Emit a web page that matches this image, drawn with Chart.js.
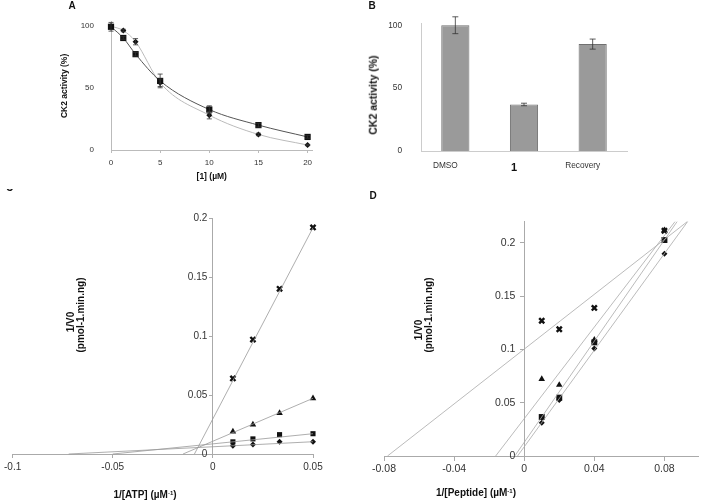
<!DOCTYPE html>
<html>
<head>
<meta charset="utf-8">
<script src="https://cdn.jsdelivr.net/npm/chart.js@4.4.0/dist/chart.umd.min.js"></script>
<style>
  body { margin: 0; background: #fff; }
  #wrap { position: relative; width: 705px; height: 501px; overflow: hidden; font-family: 'Liberation Sans', Arial, sans-serif; }
  canvas { position: absolute; }
  .lbl { position: absolute; font-weight: bold; color: #111; white-space: nowrap; line-height: 1; }
  .rot { transform: translate(-50%, -50%) rotate(-90deg); }
  .ctr { transform: translate(-50%, -50%); }
  sup { font-size: 0.6em; vertical-align: 0.5em; line-height: 0; }
</style>
</head>
<body>
<div id="wrap">
  <canvas id="chartA" width="330" height="190" style="left:0;top:0"></canvas>
  <canvas id="chartB" width="300" height="190" style="left:340px;top:0"></canvas>
  <canvas id="chartC" width="350" height="311" style="left:0;top:190px"></canvas>
  <canvas id="chartD" width="355" height="311" style="left:350px;top:190px"></canvas>

  <div class="lbl ctr" style="left:72px;top:6px;font-size:10px">A</div>
  <div class="lbl ctr" style="left:372px;top:6px;font-size:10px">B</div>
  <div class="lbl rot" style="left:373px;top:95px;font-size:10.5px">CK2 activity (%)</div>
  <div style="position:absolute;left:0;top:189px;width:20px;height:5px;overflow:hidden">
    <div class="lbl" style="left:6px;top:-6px;font-size:10px">C</div>
  </div>
  <div class="lbl ctr" style="left:373px;top:196px;font-size:10px">D</div>

  <div class="lbl rot" style="left:71px;top:322px;font-size:10px">1/V0</div>
  <div class="lbl rot" style="left:81px;top:315px;font-size:10px">(pmol-1.min.ng)</div>
  <div class="lbl ctr" style="left:145px;top:495px;font-size:10px">1/[ATP] (µM<sup>-1</sup>)</div>

  <div class="lbl rot" style="left:419px;top:330px;font-size:10px">1/V0</div>
  <div class="lbl rot" style="left:429px;top:315px;font-size:10px">(pmol-1.min.ng)</div>
  <div class="lbl ctr" style="left:476px;top:493px;font-size:10px">1/[Peptide] (µM<sup>-1</sup>)</div>
</div>
<script>
// A: activity vs concentration of 1
const doseConc = [0, 1.25, 2.5, 5, 10, 15, 20];
const doseSquare = [99, 90, 77, 55.5, 32.5, 20, 10.5];
const doseSquareErr = [3.5, 1, 1.5, 5.5, 3, 1.5, 1];
const doseDiamond = [99.5, 96, 87, 54, 28, 12.5, 4];
const doseDiamondErr = [0, 1, 2.5, 3, 3, 1, 0.5];
const doseXTicks = [0, 5, 10, 15, 20];
const pctTicks = [0, 50, 100];

// B: treatments
const treatLabels = ['DMSO', '1', 'Recovery'];
const treatValues = [100, 37, 85];
const treatErr = [6.7, 1, 4];

// C: double reciprocal vs ATP
const atpX = [0.01, 0.02, 0.0333, 0.05];
const atpCross = [0.064, 0.097, 0.14, 0.192];
const atpTriangle = [0.019, 0.025, 0.0347, 0.0472];
const atpSquare = [0.0103, 0.0128, 0.0164, 0.0172];
const atpDiamond = [0.007, 0.008, 0.0103, 0.0104];
// trend lines, [x, y] at both ends
const atpFitCross = [[-0.0092, 0], [0.05, 0.1918]];
const atpFitTriangle = [[-0.0149, 0], [0.05, 0.0472]];
const atpFitSquare = [[-0.05, 0], [0.05, 0.0172]];
const atpFitDiamond = [[-0.072, 0], [0.05, 0.0104]];
const atpXTicks = [-0.1, -0.05, 0, 0.05];
const rateTicks = [0, 0.05, 0.1, 0.15, 0.2];

// D: double reciprocal vs peptide
const pepX = [0.01, 0.02, 0.04, 0.08];
const pepCross = [0.127, 0.119, 0.139, 0.2115];
const pepTriangle = [0.0723, 0.0667, 0.109, 0.212];
const pepSquare = [0.0366, 0.0548, 0.1067, 0.2028];
const pepDiamond = [0.0313, 0.0526, 0.101, 0.19];
const pepFitCross = [[-0.078, 0], [0.093, 0.22]];
const pepFitTriangle = [[-0.0163, 0], [0.086, 0.22]];
const pepFitSquare = [[-0.0054, 0], [0.0872, 0.22]];
const pepFitDiamond = [[-0.0038, 0], [0.0932, 0.22]];
const pepXTicks = [-0.08, -0.04, 0, 0.04, 0.08];

Chart.defaults.font.family = "'Liberation Sans', Arial, sans-serif";
Chart.defaults.color = '#333';
Chart.defaults.animation = false;
Chart.defaults.plugins.legend.display = false;
Chart.defaults.plugins.tooltip.enabled = false;

const pts = (xs, ys) => xs.map((x, i) => ({ x: x, y: ys[i] }));
const seg = (pairs) => pairs.map(p => ({ x: p[0], y: p[1] }));
const fixTicks = (vals) => (axis) => { axis.ticks = vals.map(v => ({ value: v })); };
// y axes sitting at x=0 ignore ticks.padding, so pad the label text instead
const padLabel = (v) => String(v) + '  ';

function marks(xs, ys, style, r) {
  return {
    data: pts(xs, ys), showLine: false, clip: false,
    pointStyle: style, pointRadius: r,
    pointBackgroundColor: '#111', pointBorderColor: '#111',
    pointBorderWidth: style === 'crossRot' ? 2.4 : 0
  };
}
function fitLine(pairs, color) {
  return { data: seg(pairs), showLine: true, clip: false, borderColor: color, borderWidth: 0.8, pointRadius: 0 };
}

// simple vertical error bars using the y scale
function errorBars(sets, cap) {
  return {
    id: 'errorBars',
    afterDatasetsDraw(chart) {
      const ctx = chart.ctx;
      const y = chart.scales.y;
      ctx.save();
      ctx.strokeStyle = '#333';
      ctx.lineWidth = 0.8;
      sets.forEach(s => {
        chart.getDatasetMeta(s.index).data.forEach((el, i) => {
          const e = s.errs[i];
          if (!e) return;
          const top = y.getPixelForValue(s.vals[i] + e);
          const bot = y.getPixelForValue(s.vals[i] - e);
          ctx.beginPath();
          ctx.moveTo(el.x, top); ctx.lineTo(el.x, bot);
          ctx.moveTo(el.x - cap, top); ctx.lineTo(el.x + cap, top);
          ctx.moveTo(el.x - cap, bot); ctx.lineTo(el.x + cap, bot);
          ctx.stroke();
        });
      });
      ctx.restore();
    }
  };
}

new Chart(document.getElementById('chartA'), {
  type: 'scatter',
  data: {
    datasets: [
      {
        data: pts(doseConc, doseSquare), showLine: true, clip: false,
        borderColor: '#555', borderWidth: 1, cubicInterpolationMode: 'monotone',
        pointStyle: 'rect', pointRadius: 4.4, pointBackgroundColor: '#111', pointBorderWidth: 0
      },
      {
        data: pts(doseConc, doseDiamond), showLine: true, clip: false,
        borderColor: '#bbb', borderWidth: 1, cubicInterpolationMode: 'monotone',
        pointStyle: 'rectRot', pointRadius: 3, pointBackgroundColor: '#111', pointBorderWidth: 0
      }
    ]
  },
  options: {
    responsive: false,
    layout: { padding: { left: 50, top: 13, right: 17.5, bottom: 0 } },
    scales: {
      x: {
        min: 0, max: 20.5,
        afterBuildTicks: fixTicks(doseXTicks),
        afterFit: (s) => { s.height = 40; },
        grid: { drawOnChartArea: false, tickLength: 3, color: '#bbb' },
        border: { color: '#bbb' },
        ticks: { font: { size: 8 }, padding: 5, maxRotation: 0 },
        title: { display: true, text: '[1] (µM)', color: '#111', font: { size: 8.5, weight: 'bold' }, padding: { top: 0, bottom: 8 } }
      },
      y: {
        min: 0, max: 103,
        afterBuildTicks: fixTicks(pctTicks),
        afterFit: (s) => { s.width = 61; },
        grid: { display: false, drawTicks: false },
        border: { color: '#bbb' },
        ticks: { font: { size: 8 }, padding: 17 },
        title: { display: true, text: 'CK2 activity (%)', color: '#111', font: { size: 8.5, weight: 'bold' }, padding: { top: 10, bottom: 0 } }
      }
    }
  },
  plugins: [errorBars([
    { index: 0, vals: doseSquare, errs: doseSquareErr },
    { index: 1, vals: doseDiamond, errs: doseDiamondErr }
  ], 2.5)]
});

new Chart(document.getElementById('chartB'), {
  type: 'bar',
  data: {
    labels: treatLabels,
    datasets: [{
      data: treatValues, backgroundColor: '#9a9a9a', borderColor: '#707070', borderWidth: 1,
      barPercentage: 0.41, categoryPercentage: 1
    }]
  },
  options: {
    responsive: false,
    layout: { padding: { left: 25, top: 15, right: 13, bottom: 0 } },
    scales: {
      x: {
        afterFit: (s) => { s.height = 39; },
        grid: { display: false, drawTicks: false },
        border: { color: '#ccc' },
        ticks: {
          padding: 10, labelOffset: -10, maxRotation: 0,
          font: (c) => c.index === 1 ? { size: 11, weight: 'bold' } : { size: 8.3 },
          color: (c) => c.index === 1 ? '#111' : '#333'
        }
      },
      y: {
        min: 0, max: 101,
        afterBuildTicks: fixTicks(pctTicks),
        afterFit: (s) => { s.width = 56; },
        grid: { display: false, drawTicks: false },
        border: { color: '#ccc' },
        ticks: { font: { size: 8.3 }, padding: 19 }
      }
    }
  },
  plugins: [errorBars([{ index: 0, vals: treatValues, errs: treatErr }], 3)]
});

new Chart(document.getElementById('chartC'), {
  type: 'scatter',
  data: {
    datasets: [
      fitLine(atpFitCross, '#999'),
      fitLine(atpFitTriangle, '#999'),
      fitLine(atpFitSquare, '#999'),
      fitLine(atpFitDiamond, '#999'),
      marks(atpX, atpDiamond, 'rectRot', 3),
      marks(atpX, atpSquare, 'rect', 3.6),
      marks(atpX, atpTriangle, 'triangle', 3.8),
      marks(atpX, atpCross, 'crossRot', 3.6)
    ]
  },
  options: {
    responsive: false,
    layout: { padding: { left: 8, right: 37, top: 28, bottom: 47 } },
    scales: {
      x: {
        position: { y: 0 }, min: -0.1, max: 0.05,
        afterBuildTicks: fixTicks(atpXTicks),
        grid: { drawOnChartArea: false, tickLength: 3, color: '#aaa' },
        border: { color: '#aaa' },
        ticks: { font: { size: 10 }, padding: 4, maxRotation: 0, callback: (v) => String(v) }
      },
      y: {
        position: { x: 0 }, min: 0, max: 0.2,
        afterBuildTicks: fixTicks(rateTicks),
        grid: { drawOnChartArea: false, tickLength: 3, color: '#aaa' },
        border: { color: '#aaa' },
        ticks: { font: { size: 10 }, callback: padLabel }
      }
    }
  }
});

new Chart(document.getElementById('chartD'), {
  type: 'scatter',
  data: {
    datasets: [
      fitLine(pepFitCross, '#aaa'),
      fitLine(pepFitTriangle, '#aaa'),
      fitLine(pepFitSquare, '#aaa'),
      fitLine(pepFitDiamond, '#aaa'),
      marks(pepX, pepDiamond, 'rectRot', 3),
      marks(pepX, pepSquare, 'rect', 4.2),
      marks(pepX, pepTriangle, 'triangle', 3.8),
      marks(pepX, pepCross, 'crossRot', 3.6)
    ]
  },
  options: {
    responsive: false,
    layout: { padding: { left: 34, right: 1.3, top: 31.7, bottom: 45 } },
    scales: {
      x: {
        position: { y: 0 }, min: -0.08, max: 0.0995,
        afterBuildTicks: fixTicks(pepXTicks),
        grid: { drawOnChartArea: false, tickLength: 4, color: '#aaa' },
        border: { color: '#aaa' },
        ticks: { font: { size: 10.5 }, padding: 3, maxRotation: 0, callback: (v) => String(v) }
      },
      y: {
        position: { x: 0 }, min: 0, max: 0.22,
        afterBuildTicks: fixTicks(rateTicks),
        grid: { drawOnChartArea: false, tickLength: 4, color: '#aaa' },
        border: { color: '#aaa' },
        ticks: { font: { size: 10.5 }, callback: (v) => String(v) + '   ' }
      }
    }
  }
});
</script>
</body>
</html>
